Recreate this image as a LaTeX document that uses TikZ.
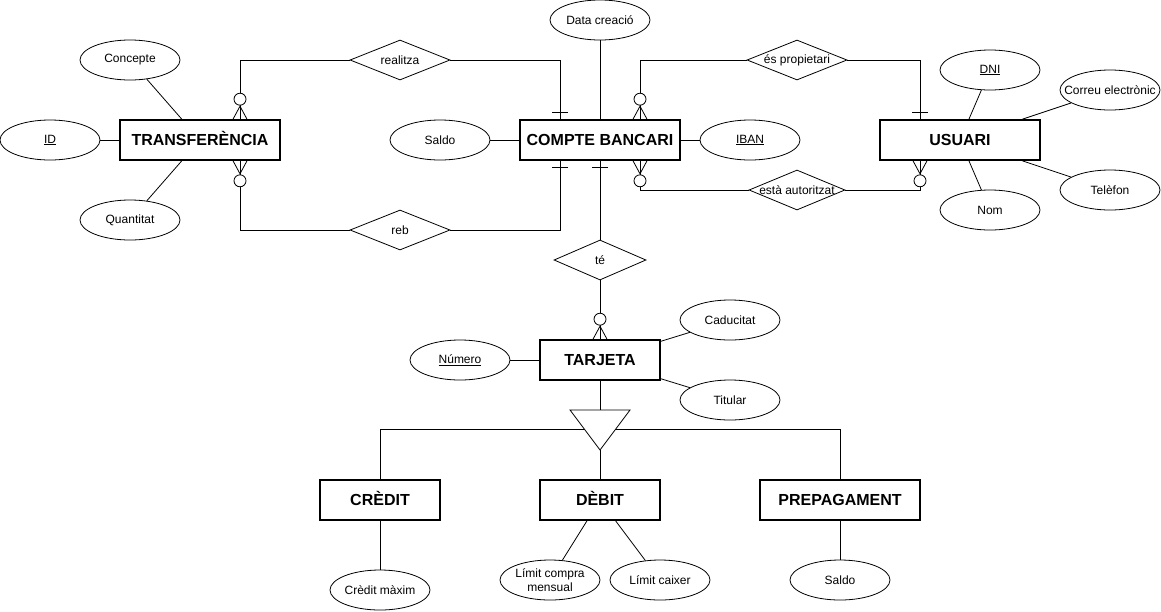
\documentclass[tikz,border=0pt]{standalone}
\usepackage{fontspec}
\setmainfont{Liberation Sans}
\usetikzlibrary{shapes.geometric,calc}
\begin{document}
\begin{tikzpicture}[x=1pt,y=-1pt,
  ent/.style={draw,line width=1.6pt,minimum width=160pt,minimum height=40pt,inner sep=0pt,text height=11.5pt,text depth=0pt,fill=white,font=\fontsize{16}{18}\selectfont\bfseries},
  sent/.style={ent,minimum width=120pt},
  attr/.style={draw,line width=0.8pt,ellipse,minimum width=100pt,minimum height=40pt,inner sep=0pt,fill=white,align=center,font=\fontsize{12}{13.5}\selectfont},
  rel/.style={draw,line width=0.8pt,diamond,minimum width=100pt,minimum height=40pt,inner sep=0pt,fill=white},
  rtext/.style={font=\fontsize{12}{14}\selectfont},
  ln/.style={line width=0.8pt},
  zm/.pic={\draw[ln] (-7,0) -- (0,-13) -- (7,0); \draw[ln] (0,0) -- (0,-13); \draw[ln,fill=white] (0,-20) circle (6pt);},
  one/.pic={\draw[ln] (-8,-7) -- (8,-7);}
]
\useasboundingbox (0,0) rectangle (1161,611);

% relationships
\node[rel,label={[rtext]center:realitza}] (realitza) at (400,60) {};
\node[rel,label={[rtext]center:reb}] (reb) at (400,230) {};
\node[rel,label={[rtext]center:és propietari}] (prop) at (797,60) {};
\node[rel,minimum width=96pt,label={[rtext]center:està autoritzat}] (aut) at (797,190) {};
\node[rel,minimum width=92pt,label={[rtext]center:té}] (te) at (600,260) {};

% entities
\node[ent] (trans) at (200,140) {TRANSFERÈNCIA};
\node[ent] (compte) at (600,140) {COMPTE BANCARI};
\node[ent] (usuari) at (960,140) {USUARI};
\node[sent] (tarjeta) at (600,360) {TARJETA};
\node[sent] (credit) at (380,500) {CRÈDIT};
\node[sent] (debit) at (600,500) {DÈBIT};
\node[ent] (prepag) at (840,500) {PREPAGAMENT};

% attributes
\node[attr] (concepte) at (130,60) {Concepte};
\node[attr] (id) at (50,140) {\underline{ID}};
\node[attr] (quant) at (130,220) {Quantitat};
\node[attr] (data) at (600,20) {Data creació};
\node[attr] (saldo) at (440,140) {Saldo};
\node[attr] (iban) at (750,140) {\underline{IBAN}};
\node[attr] (dni) at (990,70) {\underline{DNI}};
\node[attr,label={[rtext]center:Correu electrònic}] (correu) at (1110,90) {};
\node[attr] (telefon) at (1110,190) {Telèfon};
\node[attr] (nom) at (990,210) {Nom};
\node[attr] (caduc) at (730,320) {Caducitat};
\node[attr] (numero) at (460,360) {\underline{Número}};
\node[attr] (titular) at (730,400) {Titular};
\node[attr] (cmax) at (380,590) {Crèdit màxim};
\node[attr] (lcompra) at (550,580) {Límit compra\\mensual};
\node[attr] (lcaixer) at (660,580) {Límit caixer};
\node[attr] (saldo2) at (840,580) {Saldo};

% attribute lines
\draw[ln] (concepte) -- (trans);
\draw[ln] (id) -- (trans);
\draw[ln] (quant) -- (trans);
\draw[ln] (data) -- (compte);
\draw[ln] (saldo) -- (compte);
\draw[ln] (iban) -- (compte);
\draw[ln] (dni) -- (usuari);
\draw[ln] (correu) -- (usuari);
\draw[ln] (telefon) -- (usuari);
\draw[ln] (nom) -- (usuari);
\draw[ln] (caduc) -- (tarjeta);
\draw[ln] (numero) -- (tarjeta);
\draw[ln] (titular) -- (tarjeta);
\draw[ln] (cmax) -- (credit);
\draw[ln] (lcompra) -- (debit);
\draw[ln] (lcaixer) -- (debit);
\draw[ln] (saldo2) -- (prepag);

% relationship connectors
\draw[ln] (realitza.west) -| ([xshift=40pt]trans.north);
\pic at ([xshift=40pt]trans.north) {zm};
\draw[ln] (realitza.east) -| ([xshift=-40pt]compte.north);
\pic at ([xshift=-40pt]compte.north) {one};

\draw[ln] (reb.west) -| ([xshift=40pt]trans.south);
\pic[rotate=180] at ([xshift=40pt]trans.south) {zm};
\draw[ln] (reb.east) -| ([xshift=-40pt]compte.south);
\pic[rotate=180] at ([xshift=-40pt]compte.south) {one};

\draw[ln] (prop.west) -| ([xshift=40pt]compte.north);
\pic at ([xshift=40pt]compte.north) {zm};
\draw[ln] (prop.east) -| ([xshift=-40pt]usuari.north);
\pic at ([xshift=-40pt]usuari.north) {one};

\draw[ln] (aut.west) -| ([xshift=40pt]compte.south);
\pic[rotate=180] at ([xshift=40pt]compte.south) {zm};
\draw[ln] (aut.east) -| ([xshift=-40pt]usuari.south);
\pic[rotate=180] at ([xshift=-40pt]usuari.south) {zm};

\draw[ln] (compte.south) -- (te.north);
\pic[rotate=180] at (compte.south) {one};
\draw[ln] (te.south) -- (tarjeta.north);
\pic at (tarjeta.north) {zm};

% ISA
\coordinate (isatop) at (600,410);
\coordinate (isaapex) at (600,450);
\draw[ln] (tarjeta.south) -- (isatop);
\draw[ln] (credit.north) -- ++(0,-50) -| (prepag.north);
\draw[ln] (isaapex) -- (debit.north);
\draw[ln,fill=white] (570,410) -- (630,410) -- (isaapex) -- cycle;
\end{tikzpicture}
\end{document}
